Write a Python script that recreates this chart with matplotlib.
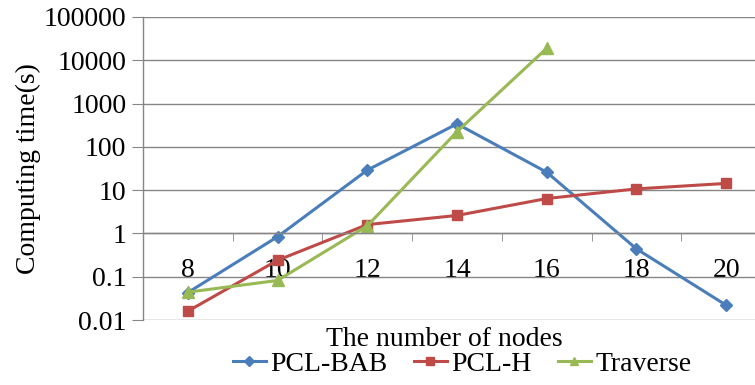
import matplotlib.pyplot as plt
from matplotlib.ticker import FixedLocator, NullFormatter

plt.rcParams['font.family'] = ['Liberation Serif', 'DejaVu Serif']

# data
nodes = [8, 10, 12, 14, 16, 18, 20]
pcl_bab = [0.043, 0.84, 29, 340, 26, 0.44, 0.022]
pcl_h = [0.016, 0.24, 1.6, 2.6, 6.4, 10.7, 14.3]
traverse_nodes = [8, 10, 12, 14, 16]
traverse = [0.044, 0.082, 1.5, 224, 19000]
ytick_vals = [0.01, 0.1, 1, 10, 100, 1000, 10000, 100000]
ytick_labels = ['0.01', '0.1', '1', '10', '100', '1000', '10000', '100000']

grey = '#868686'
fs = 20

fig = plt.figure(figsize=(7.55, 3.85), dpi=100)
ax = fig.add_axes([143 / 755, 1 - 320 / 385, 628 / 755, 303 / 385])

ax.plot(nodes, pcl_bab, color='#4A7EBB', lw=2.2, marker='D', ms=6, label='PCL-BAB')
ax.plot(nodes, pcl_h, color='#BE4B48', lw=2.2, marker='s', ms=7, label='PCL-H')
ax.plot(traverse_nodes, traverse, color='#98B954', lw=2.2, marker='^', ms=8, label='Traverse')

ax.set_yscale('log')
ax.set_ylim(0.01, 100000)
ax.set_xlim(7, 21)
ax.set_yticks(ytick_vals)
ax.set_yticklabels(ytick_labels, fontsize=fs)
ax.yaxis.set_minor_locator(FixedLocator([]))
ax.tick_params(axis='y', which='major', length=8, color=grey, pad=4)
ax.grid(axis='y', color=grey, lw=1)

# category axis crosses at y = 1 (Excel style)
ax.spines['bottom'].set_position(('data', 1))
ax.set_xticks(nodes)
ax.set_xticklabels([str(n) for n in nodes], fontsize=fs)
ax.xaxis.set_minor_locator(FixedLocator([9, 11, 13, 15, 17, 19]))
ax.xaxis.set_minor_formatter(NullFormatter())
ax.tick_params(axis='x', which='major', length=0, pad=18)
ax.tick_params(axis='x', which='minor', length=6, color=grey)

for s in ['top', 'right']:
    ax.spines[s].set_visible(False)
for s in ['left', 'bottom']:
    ax.spines[s].set_color(grey)
    ax.spines[s].set_linewidth(1)
ax.set_axisbelow(True)

ax.set_ylabel('Computing time(s)', fontsize=fs)
ax.yaxis.set_label_coords(-102 / 628, 0.5)
fig.text(444 / 755, 1 - 339 / 385, 'The number of nodes', fontsize=fs,
         ha='center', va='center')

fig.legend(loc='center', bbox_to_anchor=(462 / 755, 1 - 364 / 385), ncol=3,
           fontsize=fs, frameon=False, handlelength=1.2, handletextpad=0.15,
           columnspacing=0.95, borderpad=0, markerscale=0.8)

fig.savefig('out.png', dpi=100)
